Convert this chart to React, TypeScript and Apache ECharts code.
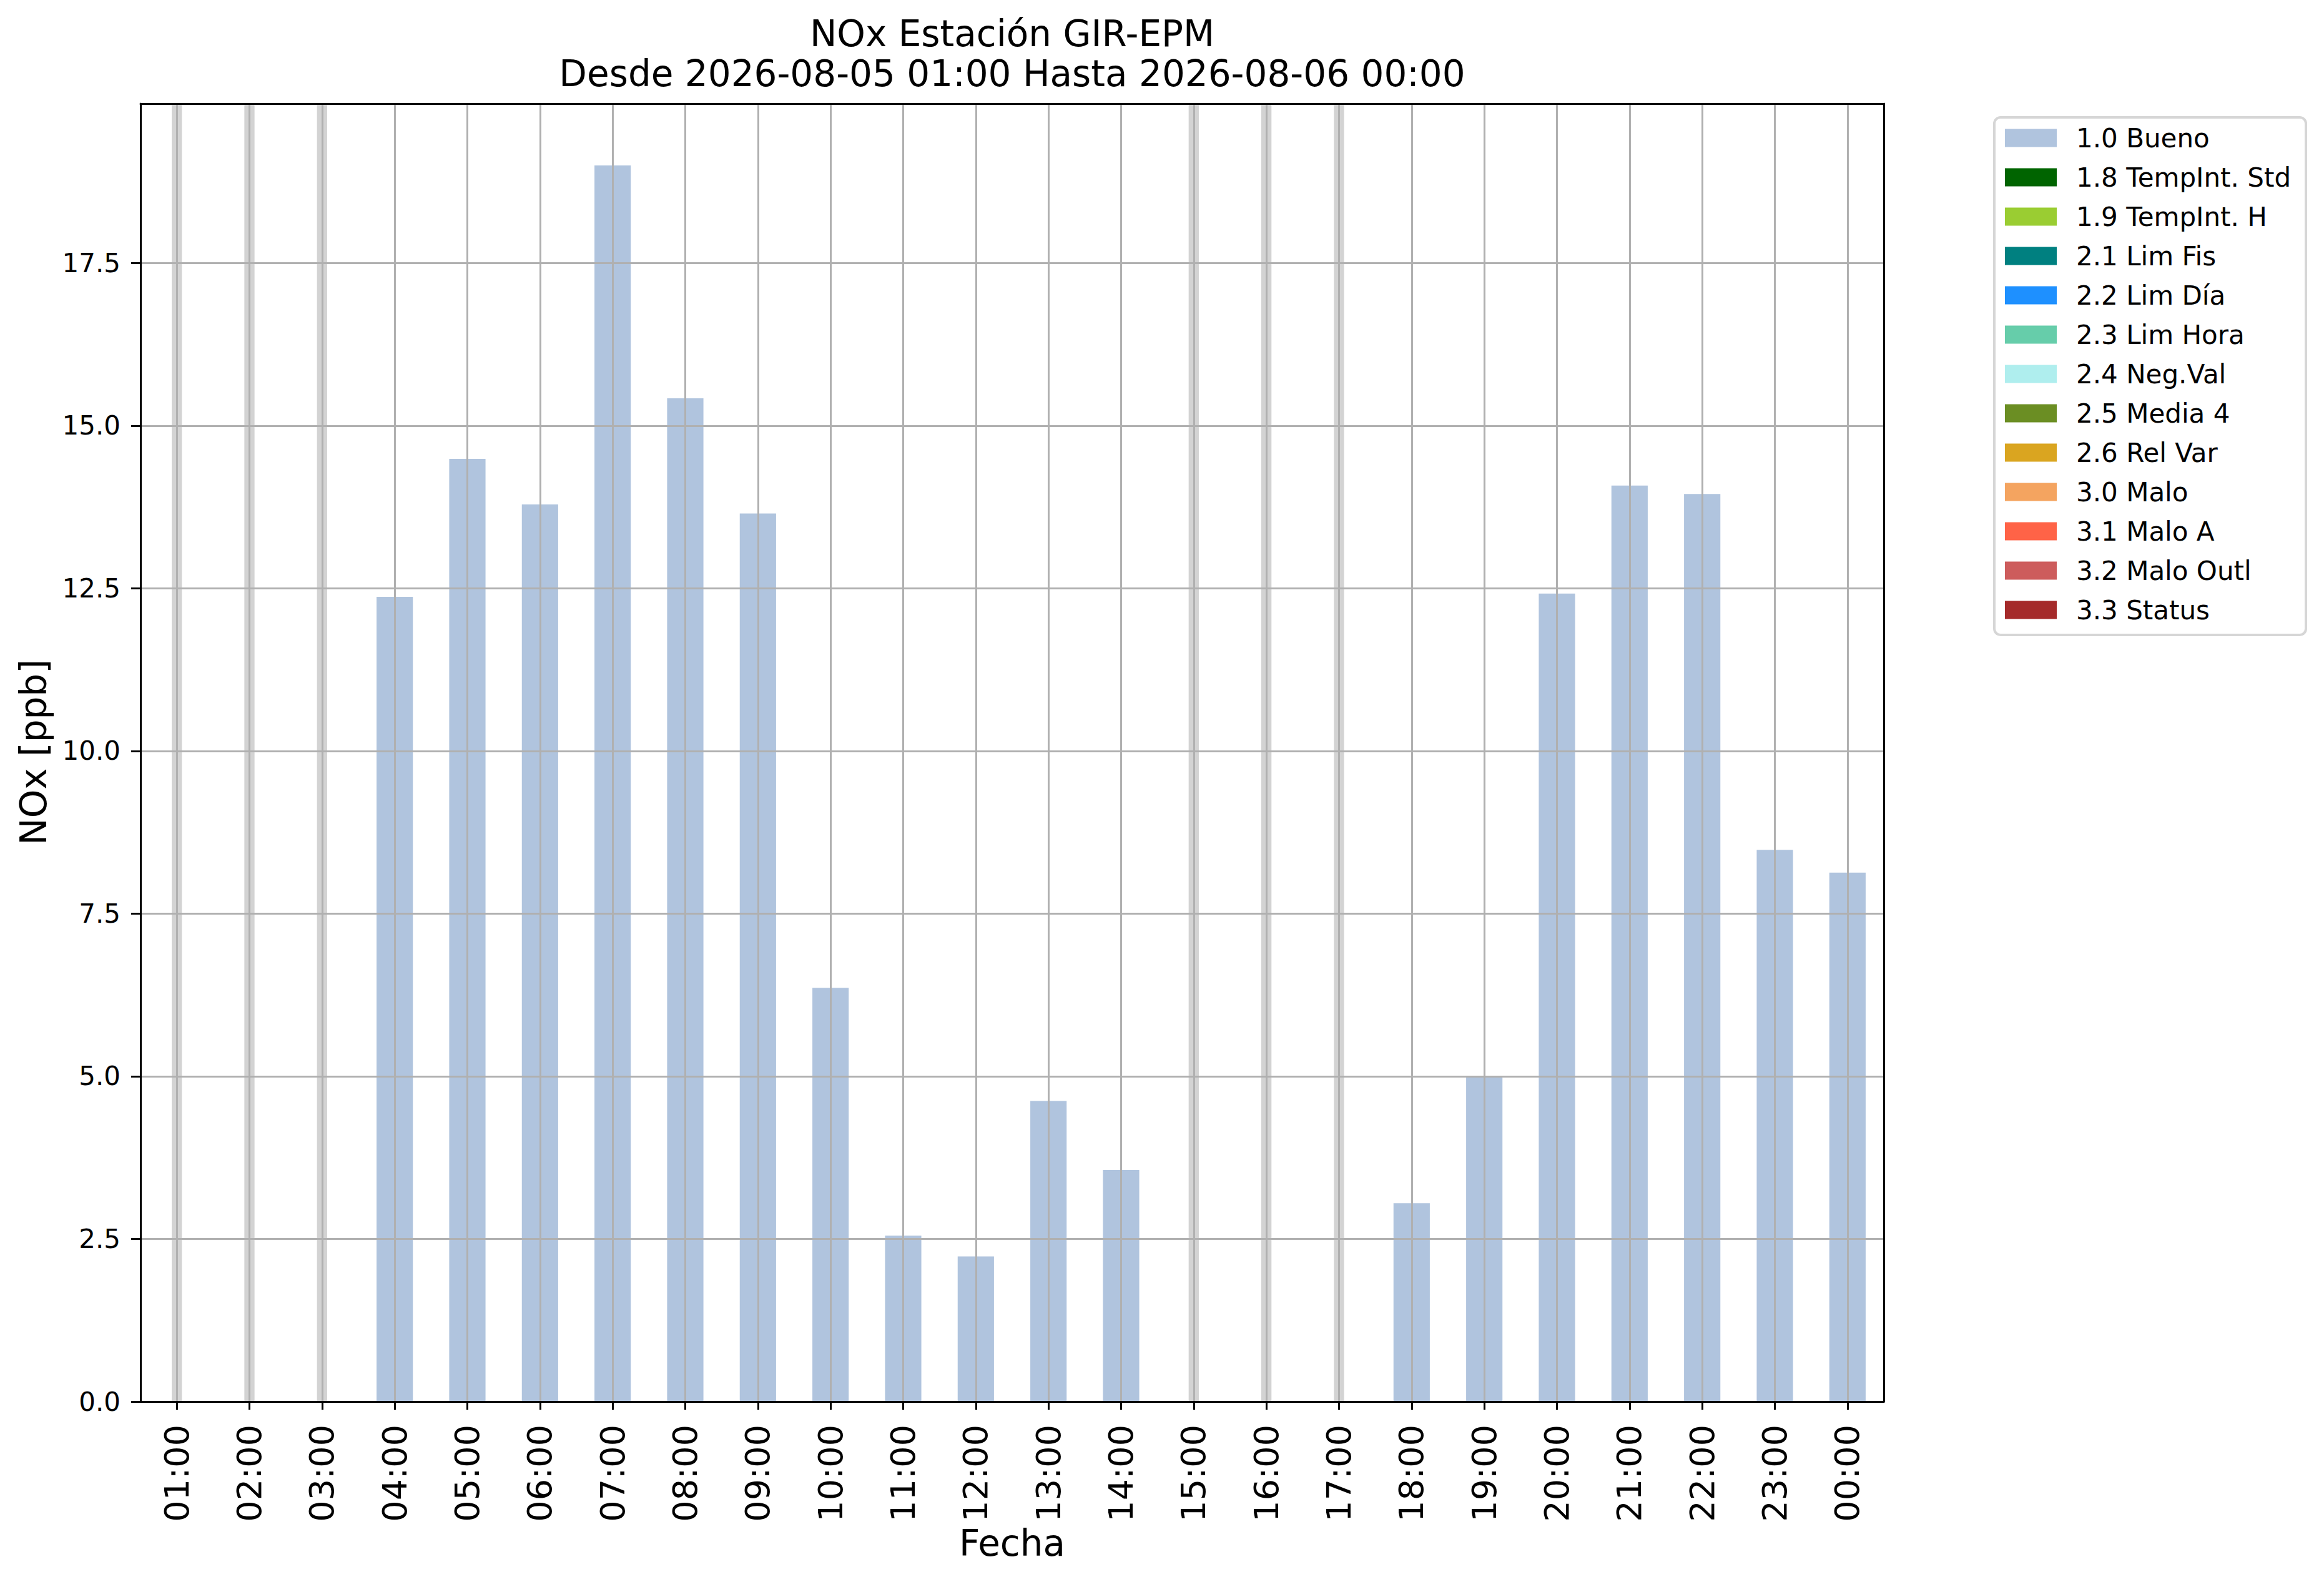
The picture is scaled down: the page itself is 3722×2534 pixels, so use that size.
import React, { useEffect, useRef } from "react";
import * as echarts from "echarts";

const hours = [
  "01:00", "02:00", "03:00", "04:00", "05:00", "06:00", "07:00", "08:00",
  "09:00", "10:00", "11:00", "12:00", "13:00", "14:00", "15:00", "16:00",
  "17:00", "18:00", "19:00", "20:00", "21:00", "22:00", "23:00", "00:00",
];
const noxValues: (number | null)[] = [
  null, null, null, 12.37, 14.49, 13.79, 19.0, 15.42,
  13.65, 6.36, 2.55, 2.23, 4.62, 3.56, null, null,
  null, 3.05, 5.01, 12.42, 14.08, 13.95, 8.48, 8.13,
];
const yTicks = [0, 2.5, 5, 7.5, 10, 12.5, 15, 17.5];
const Y_MAX = 19.95;
const legendNames = [
  "1.0 Bueno", "1.8 TempInt. Std", "1.9 TempInt. H", "2.1 Lim Fis", "2.2 Lim Día",
  "2.3 Lim Hora", "2.4 Neg.Val", "2.5 Media 4", "2.6 Rel Var", "3.0 Malo",
  "3.1 Malo A", "3.2 Malo Outl", "3.3 Status",
];
const legendColors = [
  "#b0c4de", "#006400", "#9acd32", "#008080", "#1e90ff",
  "#66cdaa", "#afeeee", "#6b8e23", "#daa520", "#f4a460",
  "#ff6347", "#cd5c5c", "#a52a2a",
];
const titleLines = ["NOx Estación GIR-EPM", "Desde 2026-08-05 01:00 Hasta 2026-08-06 00:00"];
const xName = "Fecha";
const yName = "NOx [ppb]";
const MISSING_COLOR = "#d3d3d3";
const GRID_COLOR = "#b0b0b0";
const FONT = "DejaVu Sans";

export default function App() {
  const ref = useRef<HTMLDivElement>(null);
  useEffect(() => {
    document.body.style.margin = "0";
    document.body.style.overflow = "hidden";
    if (!ref.current) return;
    const chart = echarts.init(ref.current, undefined, { renderer: "svg" });
    const black = { color: "#000", width: 3 };
    const option: any = {
      animation: false,
      backgroundColor: "#fff",
      textStyle: { fontFamily: FONT },
      grid: { left: 225, top: 166, right: 705, bottom: 289, outerBoundsMode: "none", show: false },
      xAxis: [
        {
          type: "category",
          data: hours,
          position: "bottom",
          z: 5,
          axisLine: { show: true, onZero: false, lineStyle: black },
          axisTick: { show: true, alignWithLabel: true, interval: 0, length: 13, lineStyle: black },
          axisLabel: { rotate: 90, interval: 0, fontSize: 54, color: "#000", margin: 37, fontFamily: FONT },
          splitLine: { show: true, interval: 0, alignWithLabel: true, lineStyle: { color: GRID_COLOR, width: 3 } },
        },
        {
          type: "category",
          data: hours,
          position: "top",
          z: 6,
          axisLine: { show: true, onZero: false, lineStyle: black },
          axisTick: { show: false },
          axisLabel: { show: false },
          splitLine: { show: false },
        },
      ],
      yAxis: [
        {
          type: "value",
          min: 0,
          max: Y_MAX,
          interval: 2.5,
          z: 4,
          axisLine: { show: true, lineStyle: black },
          axisTick: { show: true, length: 15, lineStyle: black, customValues: yTicks },
          axisLabel: {
            customValues: yTicks,
            formatter: (v: number) => v.toFixed(1),
            fontSize: 42,
            color: "#000",
            margin: 32,
            fontFamily: FONT,
          },
          splitLine: { show: true, lineStyle: { color: GRID_COLOR, width: 3 } },
        },
        {
          type: "value",
          position: "right",
          min: 0,
          max: Y_MAX,
          z: 6,
          axisLine: { show: true, lineStyle: black },
          axisTick: { show: false },
          axisLabel: { show: false },
          splitLine: { show: false },
        },
      ],
      legend: {
        orient: "vertical",
        left: 3194,
        top: 188,
        data: legendNames,
        icon: "rect",
        itemWidth: 83,
        itemHeight: 29,
        itemGap: 21,
        padding: [12, 24, 19, 17],
        borderColor: "#d6d6d6",
        borderWidth: 4,
        borderRadius: 10,
        backgroundColor: "#fff",
        selectedMode: false,
        textStyle: { fontSize: 42, color: "#000", fontFamily: FONT, lineHeight: 42, padding: [0, 0, 0, 26] },
      },
      series: [
        {
          name: legendNames[0],
          type: "bar",
          data: noxValues,
          barWidth: "50%",
          xAxisIndex: 0,
          yAxisIndex: 0,
          color: legendColors[0],
          itemStyle: { color: legendColors[0] },
          z: 2,
        },
        {
          name: "missing",
          type: "bar",
          data: noxValues.map((v) => (v == null ? Y_MAX : null)),
          barWidth: "14%",
          xAxisIndex: 1,
          yAxisIndex: 0,
          itemStyle: { color: MISSING_COLOR },
          silent: true,
          z: 1,
        },
        ...legendNames.slice(1).map((n, i) => ({
          name: n,
          type: "line",
          data: [],
          color: legendColors[i + 1],
          itemStyle: { color: legendColors[i + 1] },
          showSymbol: false,
        })),
      ],
      graphic: [
        {
          type: "text",
          x: 1621,
          y: 54,
          style: { text: titleLines[0], fontSize: 58, fontFamily: FONT, fill: "#000", align: "center", verticalAlign: "middle" },
        },
        {
          type: "text",
          x: 1621,
          y: 118,
          style: { text: titleLines[1], fontSize: 58, fontFamily: FONT, fill: "#000", align: "center", verticalAlign: "middle" },
        },
        {
          type: "text",
          x: 1621,
          y: 2472,
          style: { text: xName, fontSize: 58, fontFamily: FONT, fill: "#000", align: "center", verticalAlign: "middle" },
        },
        {
          type: "text",
          x: 54,
          y: 1205,
          rotation: Math.PI / 2,
          style: { text: yName, fontSize: 58, fontFamily: FONT, fill: "#000", align: "center", verticalAlign: "middle" },
        },
      ],
    };
    chart.setOption(option);
    return () => chart.dispose();
  }, []);
  return (
    <div
      ref={ref}
      style={{ position: "fixed", left: 0, top: 0, width: 3722, height: 2534, background: "#fff" }}
    />
  );
}
